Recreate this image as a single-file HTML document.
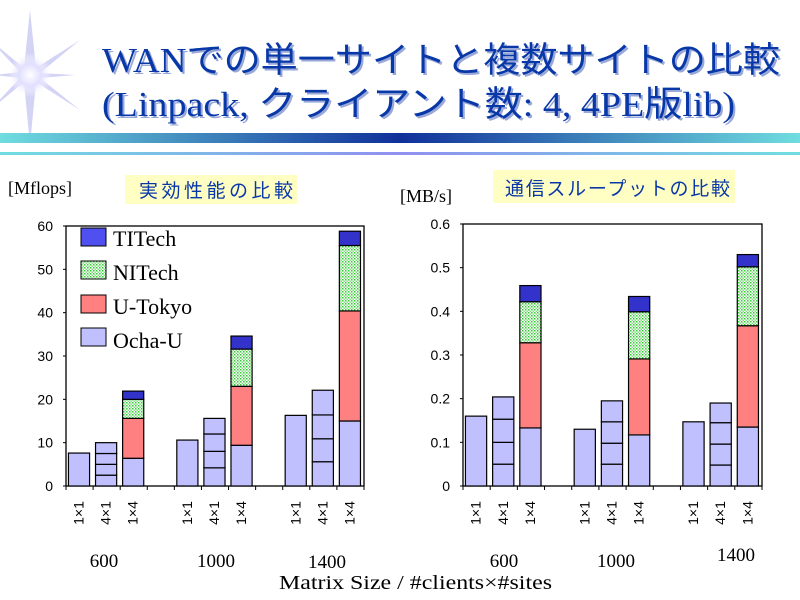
<!DOCTYPE html>
<html><head><meta charset="utf-8"><style>
html,body{margin:0;padding:0;background:#fff;}
svg{display:block;}
.jp{font-family:"Liberation Serif","Noto Sans CJK JP",serif;}
.ax{font-family:"Liberation Sans",sans-serif;font-size:14px;fill:#000;}
.sr{font-family:"Liberation Serif",serif;fill:#000;}
</style></head><body>
<svg id="page" width="800" height="600" viewBox="0 0 800 600" xmlns="http://www.w3.org/2000/svg">
<defs>
<linearGradient id="bar" x1="0" x2="1" y1="0" y2="0">
<stop offset="0" stop-color="#70dde0"/><stop offset="0.5" stop-color="#10309a"/><stop offset="1" stop-color="#70dde0"/></linearGradient>
<linearGradient id="thin" x1="0" x2="1"><stop offset="0" stop-color="#70dde0"/><stop offset="0.5" stop-color="#9090f0"/><stop offset="1" stop-color="#70dde0"/></linearGradient>
<radialGradient id="glow"><stop offset="0" stop-color="#fff"/><stop offset="0.5" stop-color="#e0e0ff"/><stop offset="1" stop-color="#fff" stop-opacity="0"/></radialGradient>
<pattern id="dots" width="3" height="3" patternUnits="userSpaceOnUse"><rect width="3" height="3" fill="#fff"/><rect width="1.5" height="1.5" fill="#33cc33"/><rect x="1.5" y="1.5" width="1.5" height="1.5" fill="#88dd88"/></pattern>
</defs>
<g>
<polygon points="30,10 36,68 80,40 40,73 75,75 40,78 80,110 36,82 30,145 24,82 -10,110 20,78 -5,75 20,72 -10,40 24,68" fill="#c8c8f4" opacity="0.8"/>
<circle cx="30" cy="75" r="22" fill="url(#glow)"/>
</g>
<g class="jp" font-size="35" fill="#0838a8">
<text x="104" y="74" fill="#9aa8d8" textLength="678" lengthAdjust="spacingAndGlyphs">WANでの単一サイトと複数サイトの比較</text>
<text x="102" y="72" textLength="678" lengthAdjust="spacingAndGlyphs">WANでの単一サイトと複数サイトの比較</text>
<text x="104" y="118" fill="#9aa8d8" textLength="633" lengthAdjust="spacingAndGlyphs">(Linpack, クライアント数: 4, 4PE版lib)</text>
<text x="102" y="116" textLength="633" lengthAdjust="spacingAndGlyphs">(Linpack, クライアント数: 4, 4PE版lib)</text>
</g>
<rect x="0" y="133" width="800" height="10" fill="url(#bar)"/>
<rect x="0" y="152" width="800" height="3" fill="url(#thin)"/>

<text class="sr" x="8" y="194" font-size="18">[Mflops]</text>
<rect x="125" y="175" width="172" height="29" fill="#ffffc4"/>
<text x="139" y="197" font-size="19" fill="#0838a8" textLength="154" lengthAdjust="spacing" font-family="'Noto Sans CJK JP',sans-serif">実効性能の比較</text>
<text class="sr" x="400" y="202" font-size="18">[MB/s]</text>
<rect x="493" y="170" width="242" height="33" fill="#ffffc4"/>
<text x="505" y="195" font-size="19" fill="#0838a8" textLength="225" lengthAdjust="spacing" font-family="'Noto Sans CJK JP',sans-serif">通信スループットの比較</text>

<g id="left"></g>
<g id="right"></g>

<g class="sr" font-size="19">
<text x="104" y="567" text-anchor="middle">600</text>
<text x="216" y="567" text-anchor="middle">1000</text>
<text x="327" y="568" text-anchor="middle">1400</text>
<text x="504" y="567" text-anchor="middle">600</text>
<text x="616" y="567" text-anchor="middle">1000</text>
<text x="736" y="561" text-anchor="middle">1400</text>
</g>
<text class="sr" x="279" y="589" font-size="20" textLength="273" lengthAdjust="spacingAndGlyphs">Matrix Size / #clients×#sites</text>

<g class="sr" font-size="22">
<rect x="81" y="228" width="25" height="18" fill="#5050f0" stroke="#000"/><text x="113" y="246">TITech</text>
<rect x="81" y="261" width="25" height="18" fill="url(#dots)" stroke="#000"/><text x="113" y="280">NITech</text>
<rect x="81" y="295" width="25" height="18" fill="#ff8080" stroke="#000"/><text x="113" y="314">U-Tokyo</text>
<rect x="81" y="328" width="25" height="18" fill="#c0c0ff" stroke="#000"/><text x="113" y="348">Ocha-U</text>
</g>
</svg>
<script>
// categories
var groups = ["600","1000","1400"];
var configs = ["1×1","4×1","1×4"];
// Left chart (Mflops)
var mfSingle = [7.6, 10.6, 16.3];
var mfClients = [[2.5,2.5,2.5,2.5],[4.2,3.8,4.0,3.6],[5.6,5.3,5.5,5.7]];
var mfOcha = [6.4, 9.4, 15.0];
var mfTokyo = [9.2, 13.6, 25.4];
var mfNITech = [4.4, 8.6, 15.1];
var mfTITech = [1.9, 3.0, 3.3];
var mfTicks = [0,10,20,30,40,50,60];
// Right chart (MB/s)
var tpSingle = [0.160, 0.130, 0.147];
var tpClients = [[0.050,0.050,0.053,0.051],[0.050,0.048,0.049,0.048],[0.048,0.048,0.049,0.045]];
var tpOcha = [0.133, 0.117, 0.135];
var tpTokyo = [0.195, 0.174, 0.232];
var tpNITech = [0.094, 0.108, 0.135];
var tpTITech = [0.037, 0.035, 0.028];
var tpTicks = [0,0.1,0.2,0.3,0.4,0.5,0.6];
var tpTickLabels = ["0","0.1","0.2","0.3","0.4","0.5","0.6"];

var NS="http://www.w3.org/2000/svg";
function mk(parent,tag,attrs){var e=document.createElementNS(NS,tag);for(var k in attrs)e.setAttribute(k,attrs[k]);parent.appendChild(e);return e;}

function draw(gid,x0,x1,y0,y1,ymax,single,clients,ocha,tokyo,nit,tit,ticks,tickLabels){
  var g=document.getElementById(gid);
  var ys=function(v){return y0-(v/ymax)*(y0-y1);};
  var slot=(x1-x0)/11, bw=slot*0.78, off=slot*0.09;
  var fr=mk(g,'rect',{x:x0,y:y1,width:x1-x0,height:y0-y1,fill:'#fff',stroke:'#000','stroke-width':1.3});
  
  
  ticks.forEach(function(t,i){
    var y=ys(t);
    var tk=mk(g,'line',{x1:x0-3,x2:x0,y1:y,y2:y,stroke:'#000'});
    
    
    var tl=mk(g,'text',{x:x0-13,y:y+5,'text-anchor':'end','class':'ax'});
    tl.textContent=tickLabels?tickLabels[i]:String(t);
    
    
  });
  for(var s=0;s<=11;s++){
    var xt=mk(g,'line',{x1:x0+s*slot,x2:x0+s*slot,y1:y0,y2:y0+4,stroke:'#000'});
    
    
  }
  function seg(x,lo,hi,fill,name){
    var r=mk(g,'rect',{x:x,y:ys(hi),width:bw,height:ys(lo)-ys(hi),fill:fill,stroke:'#000','stroke-width':1.2});
    
    
  }
  groups.forEach(function(grp,gi){
    var base=gi*4;
    var xa=x0+base*slot+off;
    seg(xa,0,single[gi],'#c0c0ff','bar-'+grp+'-1x1');
    var xb=x0+(base+1)*slot+off, acc=0;
    clients[gi].forEach(function(v,ci){seg(xb,acc,acc+v,'#c0c0ff','bar-'+grp+'-4x1-client'+(ci+1));acc+=v;});
    var xc=x0+(base+2)*slot+off, c=0;
    seg(xc,c,c+ocha[gi],'#c0c0ff','bar-'+grp+'-1x4-ocha');c+=ocha[gi];
    seg(xc,c,c+tokyo[gi],'#ff8080','bar-'+grp+'-1x4-utokyo');c+=tokyo[gi];
    seg(xc,c,c+nit[gi],'url(#dots)','bar-'+grp+'-1x4-nitech');c+=nit[gi];
    seg(xc,c,c+tit[gi],'#3333cc','bar-'+grp+'-1x4-titech');
    configs.forEach(function(cf,k){
      var cx=x0+(base+k)*slot+slot/2+4;
      var t=mk(g,'text',{x:0,y:0,'class':'ax','font-size':14,'text-anchor':'middle',transform:'translate('+cx+',513) rotate(-90)'});
      t.textContent=cf;
      
      
    });
  });
}
draw('left',66,364,486,226,60,mfSingle,mfClients,mfOcha,mfTokyo,mfNITech,mfTITech,mfTicks,null);
draw('right',463,762,486,224,0.6,tpSingle,tpClients,tpOcha,tpTokyo,tpNITech,tpTITech,tpTicks,tpTickLabels);
</script>
</body></html>
